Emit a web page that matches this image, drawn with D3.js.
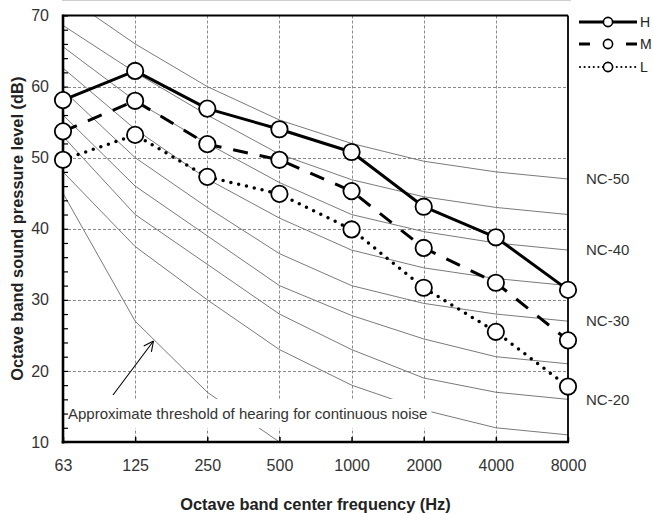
<!DOCTYPE html>
<html><head><meta charset="utf-8">
<script src="https://cdn.jsdelivr.net/npm/d3@7"></script>
<style>
html,body{margin:0;padding:0;background:#fff;}
svg{display:block;font-family:"Liberation Sans",Arial,sans-serif;}
</style></head>
<body><svg id="chart" width="653" height="514"></svg>
<script>
// ---------- data ----------
const freqs = ["63","125","250","500","1000","2000","4000","8000"];
const seriesNames = ["H","M","L"];
const valuesH = [58.1, 62.2, 56.9, 54.0, 50.8, 43.1, 38.8, 31.4];
const valuesM = [53.7, 58.0, 51.9, 49.7, 45.3, 37.3, 32.4, 24.3];
const valuesL = [49.7, 53.2, 47.3, 44.9, 39.9, 31.7, 25.5, 17.8];
const ncNames = ["NC-15","NC-20","NC-25","NC-30","NC-35","NC-40","NC-45","NC-50"];
const nc15 = [48.0, 37.5, 30.0, 23.0, 18.0, 14.5, 12, 11];
const nc20 = [53.0, 42.0, 35.0, 28.0, 23.0, 19.0, 17, 16];
const nc25 = [56.0, 46.0, 39.0, 32.0, 27.8, 24.5, 22, 21];
const nc30 = [59.5, 50.0, 43.0, 36.5, 32.0, 29.5, 28, 27];
const nc35 = [62.6, 54.0, 47.0, 41.5, 37.0, 34.5, 33, 32];
const nc40 = [65.6, 58.0, 52.0, 46.5, 42.0, 39.6, 38, 37];
const nc45 = [68.6, 62.0, 56.0, 50.5, 46.9, 44.5, 43, 42];
const nc50 = [73.0, 66.0, 60.0, 55.3, 52.0, 49.5, 48, 47];
const thresholdFreqs = ["63","125","250","500"];
const thresholdValues = [45, 27, 17, 10];
const ncLabelNames = ["NC-50","NC-40","NC-30","NC-20"];
const ncLabelValues = [47, 37, 27, 16];
const yTicks = [10, 20, 30, 40, 50, 60, 70];
const yMinorTicks = d3.range(10, 71, 2);
const annotationText = "Approximate threshold of hearing for continuous noise";
const xTitle = "Octave band center frequency (Hz)";
const yTitle = "Octave band sound pressure level (dB)";

// ---------- layout ----------
const L = 63, R = 568, T = 15.5, B = 442;
const svg = d3.select("#chart");
const x = d3.scalePoint().domain(freqs).range([L, R]);
const y = d3.scaleLinear().domain([10, 70]).range([B, T]);

// faint top border
svg.append("line").attr("x1", 62).attr("x2", 571).attr("y1", 0.5).attr("y2", 0.5)
  .attr("stroke", "#d0d0d0").attr("stroke-width", 1);

svg.append("defs").append("clipPath").attr("id", "plotclip")
  .append("rect").attr("x", L).attr("y", T).attr("width", R - L).attr("height", B - T);

// grid
const grid = svg.append("g").attr("stroke", "#8a8a8a").attr("stroke-width", 1).attr("stroke-dasharray", "3,2");
grid.selectAll("line.h").data(yTicks.filter(d => d > 10 && d < 70)).join("line")
  .attr("x1", L).attr("x2", R).attr("y1", d => Math.round(y(d)) + 0.5).attr("y2", d => Math.round(y(d)) + 0.5);
grid.selectAll("line.v").data(freqs.slice(1, -1)).join("line")
  .attr("y1", T).attr("y2", B).attr("x1", d => Math.round(x(d)) + 0.5).attr("x2", d => Math.round(x(d)) + 0.5);

// NC curves
const ncData = [nc15, nc20, nc25, nc30, nc35, nc40, nc45, nc50];
const line = d3.line().x((d, i) => x(freqs[i])).y(d => y(d));
const curves = svg.append("g").attr("clip-path", "url(#plotclip)");
curves.selectAll("path.nc").data(ncData).join("path").attr("class", "nc")
  .attr("d", line).attr("fill", "none").attr("stroke", "#7a7a7a").attr("stroke-width", 1);
curves.append("path")
  .attr("d", d3.line().x((d, i) => x(thresholdFreqs[i])).y(d => y(d))(thresholdValues))
  .attr("fill", "none").attr("stroke", "#7a7a7a").attr("stroke-width", 1);

// annotation text with white box
const ann = svg.append("g");
const annText = ann.append("text").attr("x", 68).attr("y", 418.5)
  .attr("font-size", 15).attr("fill", "#333").text(annotationText);
const bb = annText.node().getBBox();
ann.insert("rect", "text").attr("x", 66).attr("y", 399).attr("width", bb.x + bb.width + 4 - 66).attr("height", 29)
  .attr("fill", "#fff");

// arrow
const arrow = svg.append("g").attr("stroke", "#000").attr("stroke-width", 1.1).attr("fill", "none");
const ax1 = 113, ay1 = 395, ax2 = 153.5, ay2 = 341;
arrow.append("line").attr("x1", ax1).attr("y1", ay1).attr("x2", ax2).attr("y2", ay2);
const ang = Math.atan2(ay2 - ay1, ax2 - ax1);
[ang + Math.PI - 0.45, ang + Math.PI + 0.45].forEach(a => {
  arrow.append("line").attr("x1", ax2).attr("y1", ay2)
    .attr("x2", ax2 + 11 * Math.cos(a)).attr("y2", ay2 + 11 * Math.sin(a));
});

// axes frame
svg.append("line").attr("x1", L).attr("x2", R).attr("y1", T).attr("y2", T).attr("stroke", "#000").attr("stroke-width", 2);
svg.append("line").attr("x1", R).attr("x2", R).attr("y1", T).attr("y2", B).attr("stroke", "#000").attr("stroke-width", 1.8);

// minor y ticks inside
const yMinor = svg.append("g").attr("transform", `translate(${L},0)`)
  .call(d3.axisRight(y).tickValues(yMinorTicks).tickSize(5).tickFormat(""));
yMinor.select(".domain").remove();
yMinor.selectAll("line").attr("stroke", "#000").attr("stroke-width", 1.2);

// x ticks inside
const xTickG = svg.append("g").attr("transform", `translate(0,${B})`)
  .call(d3.axisTop(x).tickSize(5).tickFormat(""));
xTickG.select(".domain").remove();
xTickG.selectAll("line").attr("stroke", "#000").attr("stroke-width", 1.5);

// y labels
const yAx = svg.append("g").attr("transform", `translate(${L},0)`)
  .call(d3.axisLeft(y).tickValues(yTicks).tickSize(0).tickPadding(14));
yAx.select(".domain").remove();
yAx.selectAll("text").attr("font-size", 16).attr("fill", "#333").attr("font-family", "Liberation Sans, Arial, sans-serif");

// x labels
const xAx = svg.append("g").attr("transform", `translate(0,${B})`)
  .call(d3.axisBottom(x).tickSize(0).tickPadding(18));
xAx.select(".domain").remove();
xAx.selectAll("text").attr("font-size", 16).attr("fill", "#333").attr("font-family", "Liberation Sans, Arial, sans-serif");

// main axis lines
svg.append("line").attr("x1", L).attr("x2", L).attr("y1", T - 1).attr("y2", B + 1.5).attr("stroke", "#000").attr("stroke-width", 2.6);
svg.append("line").attr("x1", L - 1.3).attr("x2", R + 1).attr("y1", B).attr("y2", B).attr("stroke", "#000").attr("stroke-width", 2.6);

// NC labels
svg.append("g").selectAll("text").data(ncLabelNames).join("text")
  .attr("x", 586).attr("y", (d, i) => y(ncLabelValues[i])).attr("dy", "0.35em")
  .attr("font-size", 15).attr("fill", "#333").text(d => d);

// series
const seriesVals = [valuesH, valuesM, valuesL];
const dashes = [null, "15,12", "0,8"];
const caps = ["butt", "butt", "round"];
const widths = [3, 3, 3.5];
const sg = svg.append("g");
seriesVals.forEach((vals, k) => {
  sg.append("path").attr("d", line(vals)).attr("fill", "none").attr("stroke", "#000")
    .attr("stroke-width", widths[k]).attr("stroke-dasharray", dashes[k]).attr("stroke-linecap", caps[k])
    .attr("stroke-linejoin", "round");
});
seriesVals.forEach(vals => {
  sg.selectAll(null).data(vals).join("circle")
    .attr("cx", (d, i) => x(freqs[i])).attr("cy", d => y(d)).attr("r", 8.2)
    .attr("fill", "#fff").attr("stroke", "#000").attr("stroke-width", 1.8);
});

// legend
const legY = [22, 44, 67];
const lg = svg.append("g");
seriesNames.forEach((name, k) => {
  const yy = legY[k];
  if (k === 0) {
    lg.append("line").attr("x1", 579).attr("x2", 637).attr("y1", yy).attr("y2", yy).attr("stroke", "#000").attr("stroke-width", 3);
  } else if (k === 1) {
    [[579, 590], [626, 637]].forEach(s => lg.append("line").attr("x1", s[0]).attr("x2", s[1]).attr("y1", yy).attr("y2", yy).attr("stroke", "#000").attr("stroke-width", 3));
  } else {
    lg.append("line").attr("x1", 580).attr("x2", 637).attr("y1", yy).attr("y2", yy).attr("stroke", "#000")
      .attr("stroke-width", 2.2).attr("stroke-dasharray", "0,4.6").attr("stroke-linecap", "round");
  }
  lg.append("circle").attr("cx", 608).attr("cy", yy).attr("r", 4.6).attr("fill", "#fff").attr("stroke", "#000").attr("stroke-width", 1.6);
  lg.append("text").attr("x", 640).attr("y", yy).attr("dy", "0.35em").attr("font-size", 14).attr("fill", "#222").text(name);
});

// titles
svg.append("text").attr("x", (L + R) / 2).attr("y", 510).attr("text-anchor", "middle")
  .attr("font-size", 16.4).attr("font-weight", "bold").attr("fill", "#222").text(xTitle);
svg.append("text").attr("transform", `translate(23,${(T + B) / 2}) rotate(-90)`).attr("text-anchor", "middle")
  .attr("font-size", 16.4).attr("font-weight", "bold").attr("fill", "#222").text(yTitle);
</script></body></html>
